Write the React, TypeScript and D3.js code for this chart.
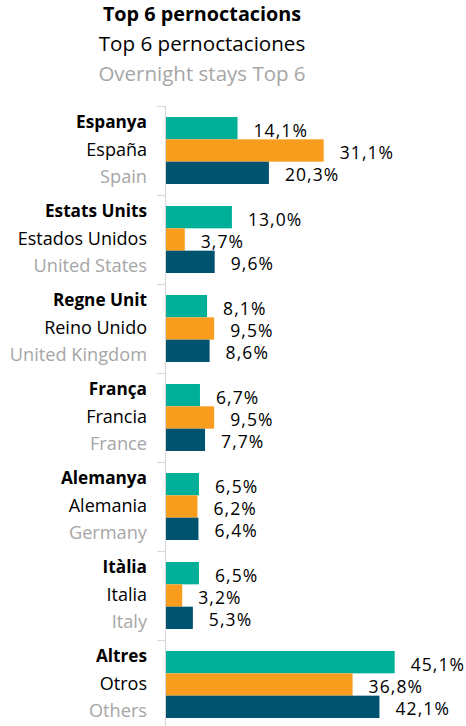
import React from "react";
import * as d3 from "d3";

const categoriesCa = ["Espanya", "Estats Units", "Regne Unit", "França", "Alemanya", "Itàlia", "Altres"];
const categoriesEs = ["España", "Estados Unidos", "Reino Unido", "Francia", "Alemania", "Italia", "Otros"];
const categoriesEn = ["Spain", "United States", "United Kingdom", "France", "Germany", "Italy", "Others"];
const seriesNames = ["s1", "s2", "s3"];
const series1 = [14.1, 13.0, 8.1, 6.7, 6.5, 6.5, 45.1];
const series2 = [31.1, 3.7, 9.5, 9.5, 6.2, 3.2, 36.8];
const series3 = [20.3, 9.6, 8.6, 7.7, 6.4, 5.3, 42.1];
const titleLines = ["Top 6 pernoctacions", "Top 6 pernoctaciones", "Overnight stays Top 6"];

const colors = ["#00AF98", "#F99D1E", "#00536F"];
const W = 466;
const H = 726;
const FONT = "'Open Sans', sans-serif";

export default function App() {
  const x = d3.scaleLinear().domain([0, 50]).range([166, 166 + 5.07 * 50]);
  const y = d3.scaleBand<string>().domain(categoriesCa).range([106, 106 + 89 * 7]).padding(0);
  const inner = d3.scaleBand<string>().domain(seriesNames).range([11, 78]).padding(0);
  const allSeries = [series1, series2, series3];
  const fmt = (v: number) => v.toFixed(1).replace(".", ",") + "%";

  return (
    <svg width={W} height={H} style={{ position: "absolute", left: 0, top: 0, background: "#fff" }} fontFamily={FONT}>
      <text x={202} y={21} textAnchor="middle" fontSize={19.8} fontWeight={700} fill="#000">{titleLines[0]}</text>
      <text x={202} y={51} textAnchor="middle" fontSize={20.6} fill="#000">{titleLines[1]}</text>
      <text x={202} y={80.5} textAnchor="middle" fontSize={20.5} fill="#A6A6A6">{titleLines[2]}</text>

      <line x1={165.5} x2={165.5} y1={106} y2={H} stroke="#D9D9D9" strokeWidth={1.2} />
      {categoriesCa.map((c) => (
        <line key={"t" + c} x1={157} x2={165.5} y1={(y(c) as number) + 0.5} y2={(y(c) as number) + 0.5} stroke="#D9D9D9" strokeWidth={1.2} />
      ))}

      {categoriesCa.map((c, i) => {
        const y0 = y(c) as number;
        return (
          <g key={c}>
            <text x={147} y={y0 + 22} textAnchor="end" fontSize={17.2} fontWeight={700} fill="#000">{c}</text>
            <text x={147} y={y0 + 49.5} textAnchor="end" fontSize={18} fill="#000">{categoriesEs[i]}</text>
            <text x={147} y={y0 + 77} textAnchor="end" fontSize={18.2} fill="#A6A6A6">{categoriesEn[i]}</text>
            {allSeries.map((s, j) => {
              const by = y0 + (inner(seriesNames[j]) as number);
              const bh = inner.bandwidth();
              return (
                <g key={j}>
                  <rect x={x(0)} y={by} width={x(s[i]) - x(0)} height={bh} fill={colors[j]} />
                  <text x={x(s[i]) + 16} y={by + bh / 2 + 8.5} fontSize={17.5} letterSpacing={1.1} fill="#000">{fmt(s[i])}</text>
                </g>
              );
            })}
          </g>
        );
      })}
    </svg>
  );
}
